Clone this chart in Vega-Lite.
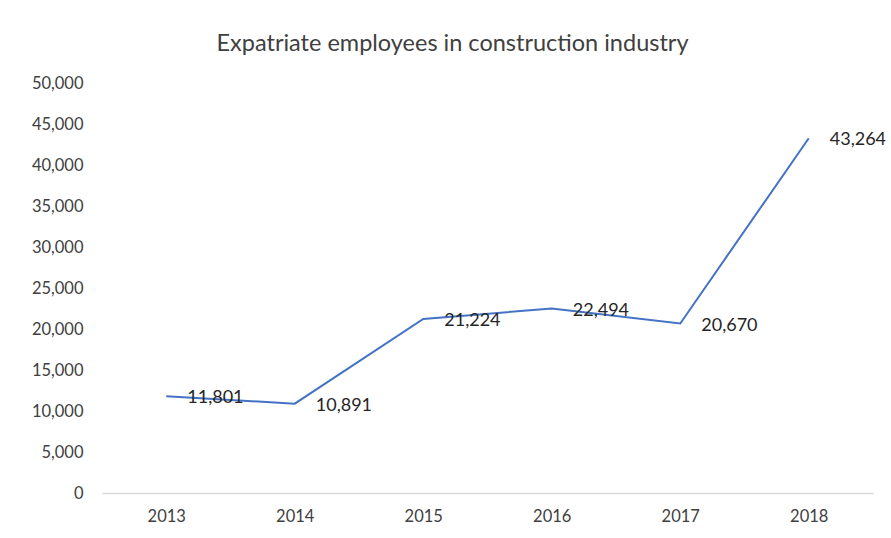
{
  "$schema": "https://vega.github.io/schema/vega-lite/v6.json",
  "autosize": "none",
  "width": 771,
  "height": 410,
  "padding": {"left": 102, "top": 83, "right": 18, "bottom": 45},
  "background": "white",
  "title": {
    "text": "Expatriate employees in construction industry",
    "font": "Lato",
    "fontSize": 23.5,
    "fontWeight": "normal",
    "color": "#404040",
    "anchor": "middle",
    "dx": -35,
    "offset": 20
  },
  "data": {
    "values": [
      {"year": "2013", "value": 11801},
      {"year": "2014", "value": 10891},
      {"year": "2015", "value": 21224},
      {"year": "2016", "value": 22494},
      {"year": "2017", "value": 20670},
      {"year": "2018", "value": 43264}
    ]
  },
  "encoding": {
    "x": {
      "field": "year",
      "type": "nominal",
      "scale": {"type": "point", "padding": 0.5},
      "axis": {
        "title": null,
        "labelAngle": 0,
        "labelFont": "Lato",
        "labelFontSize": 16.5,
        "labelColor": "#404040",
        "labelPadding": 15,
        "ticks": false,
        "domainColor": "#d9d9d9",
        "domainWidth": 1.5,
        "grid": false
      }
    },
    "y": {
      "field": "value",
      "type": "quantitative",
      "scale": {"domain": [0, 50000], "nice": false},
      "axis": {
        "title": null,
        "values": [0, 5000, 10000, 15000, 20000, 25000, 30000, 35000, 40000, 45000, 50000],
        "format": ",d",
        "labelFont": "Lato",
        "labelFontSize": 16.5,
        "labelColor": "#404040",
        "labelPadding": 19,
        "ticks": false,
        "domain": false,
        "grid": false
      }
    }
  },
  "layer": [
    {"mark": {"type": "line", "color": "#4472C4", "strokeWidth": 2}},
    {
      "mark": {"type": "text", "align": "left", "dx": 21, "dy": 2, "font": "Lato", "fontSize": 18, "color": "#262626"},
      "encoding": {"text": {"field": "value", "type": "quantitative", "format": ",d"}}
    }
  ],
  "config": {"view": {"stroke": null}}
}
